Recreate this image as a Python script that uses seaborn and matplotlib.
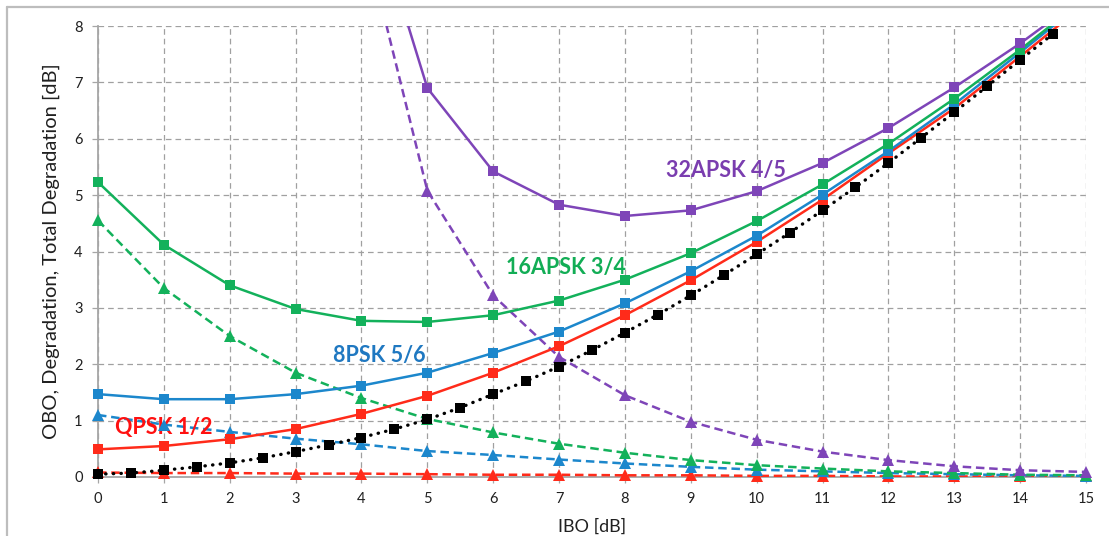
import numpy as np
import pandas as pd
import matplotlib
matplotlib.use("Agg")
import matplotlib.pyplot as plt
from matplotlib.lines import Line2D
import seaborn as sns

# ---- data ----
ibo = list(range(16))
ibo_half = [i * 0.5 for i in range(30)]

obo = [0.05, 0.07, 0.12, 0.18, 0.25, 0.34, 0.45, 0.57, 0.70, 0.85,
       1.02, 1.23, 1.47, 1.70, 1.96, 2.25, 2.56, 2.88, 3.22, 3.58,
       3.95, 4.33, 4.73, 5.14, 5.57, 6.02, 6.47, 6.93, 7.40, 7.86]

qpsk_total = [0.49, 0.55, 0.67, 0.85, 1.12, 1.44, 1.85, 2.32, 2.87, 3.49,
              4.17, 4.92, 5.74, 6.54, 7.46, 8.40]
qpsk_deg = [0.08, 0.07, 0.07, 0.06, 0.06, 0.05, 0.04, 0.04, 0.03, 0.03,
            0.02, 0.02, 0.01, 0.01, 0.01, 0.01]

psk8_total = [1.47, 1.38, 1.38, 1.47, 1.62, 1.85, 2.20, 2.58, 3.08, 3.65,
              4.28, 5.01, 5.78, 6.61, 7.53, 8.47]
psk8_deg = [1.10, 0.93, 0.80, 0.68, 0.58, 0.46, 0.39, 0.31, 0.24, 0.18,
            0.13, 0.10, 0.07, 0.05, 0.03, 0.02]

apsk16_total = [5.23, 4.12, 3.40, 2.98, 2.77, 2.75, 2.87, 3.13, 3.50, 3.97,
                4.54, 5.19, 5.91, 6.71, 7.58, 8.50]
apsk16_deg = [4.55, 3.35, 2.50, 1.85, 1.40, 1.03, 0.79, 0.59, 0.43, 0.30,
              0.21, 0.15, 0.10, 0.07, 0.04, 0.03]

ibo_32 = list(range(4, 16))
apsk32_total = [10.7, 6.90, 5.42, 4.83, 4.63, 4.73, 5.07, 5.57, 6.19, 6.91,
                7.69, 8.55]
apsk32_deg = [9.8, 5.08, 3.22, 2.13, 1.45, 0.98, 0.66, 0.45, 0.30, 0.19,
              0.12, 0.09]

labels = ["QPSK 1/2", "8PSK 5/6", "16APSK 3/4", "32APSK 4/5"]
xticks = list(range(16))
yticks = list(range(9))

# ---- style ----
RED = "#FF2B1A"
BLUE = "#1C87CC"
GREEN = "#13B15B"
PURPLE = "#7E45B8"
YMAX = 8

sns.set_theme(style="white")
plt.rcParams["font.family"] = ["Lato", "DejaVu Sans"]

fig = plt.figure(figsize=(11.09, 5.36), dpi=100)
ax = fig.add_axes([98 / 1109, 1 - 477 / 536, (1086 - 98) / 1109, (477 - 26) / 536])

# outer chart frame (left and top)
fig.add_artist(Line2D([7 / 1109, 7 / 1109], [0, 1 - 7 / 536], transform=fig.transFigure,
                      color="#BDBDBD", lw=1.6))
fig.add_artist(Line2D([7 / 1109, 1], [1 - 7 / 536, 1 - 7 / 536], transform=fig.transFigure,
                      color="#BDBDBD", lw=1.6))

dash = (0, (3.4, 1.9))


def draw(x, y, color, ls, marker, msize, lw=1.8, z=3, **extra):
    # clipped line
    sns.lineplot(x=x, y=y, ax=ax, color=color, linestyle=ls, linewidth=lw,
                 sort=False, estimator=None, zorder=z, **extra)
    # markers (not clipped at the axes edges, only those inside the range)
    df = pd.DataFrame({"x": x, "y": y})
    df = df[df["y"] <= YMAX]
    sns.lineplot(data=df, x="x", y="y", ax=ax, color=color, linestyle="none",
                 marker=marker, markersize=msize, markeredgewidth=0,
                 sort=False, estimator=None, zorder=z + 0.1)
    ax.lines[-1].set_clip_on(False)


# dashed degradation curves
draw(ibo, qpsk_deg, RED, dash, "^", 8, lw=1.8)
draw(ibo, psk8_deg, BLUE, dash, "^", 8, lw=1.8)
draw(ibo, apsk16_deg, GREEN, dash, "^", 8, lw=1.8)
draw(ibo_32, apsk32_deg, PURPLE, dash, "^", 8, lw=1.8)

# OBO dotted
draw(ibo_half, obo, "black", (0, (0.1, 2.2)), "s", 7, lw=2.4, z=4,
     dash_capstyle="round")

# solid total degradation curves
draw(ibo, qpsk_total, RED, "-", "s", 6.5)
draw(ibo, psk8_total, BLUE, "-", "s", 6.5)
draw(ibo, apsk16_total, GREEN, "-", "s", 6.5)
draw(ibo_32, apsk32_total, PURPLE, "-", "s", 6.5)

# curve labels
lab_kw = dict(fontsize=15.5, fontweight="bold", va="center", ha="left")
ax.text(0.26, 0.87, labels[0], color="#FF1010", **lab_kw)
ax.text(3.57, 2.15, labels[1], color="#1F78C1", **lab_kw)
ax.text(6.2, 3.72, labels[2], color="#12AD55", **lab_kw)
ax.text(8.63, 5.44, labels[3], color="#7A3DAF", **lab_kw)

ax.set_xlim(0, 15)
ax.set_ylim(0, YMAX)
ax.set_xticks(xticks)
ax.set_yticks(yticks)
ax.grid(True, color="#A0A0A0", linestyle=(0, (4.5, 3.2)), linewidth=0.9)
ax.set_axisbelow(True)
for s in ["top", "right"]:
    ax.spines[s].set_visible(False)
for s in ["left", "bottom"]:
    ax.spines[s].set_color("#A6A6A6")
    ax.spines[s].set_linewidth(1.3)
ax.tick_params(axis="both", length=4, width=0.9, color="#A6A6A6",
               labelsize=10.5, labelcolor="#202020", pad=7, bottom=True, left=True)
ax.set_xlabel("IBO [dB]", fontsize=13, color="#202020", labelpad=9)
ax.set_ylabel("OBO, Degradation, Total Degradation [dB]", fontsize=14.5,
              color="#202020", labelpad=10)

fig.savefig("out.png", dpi=100)
